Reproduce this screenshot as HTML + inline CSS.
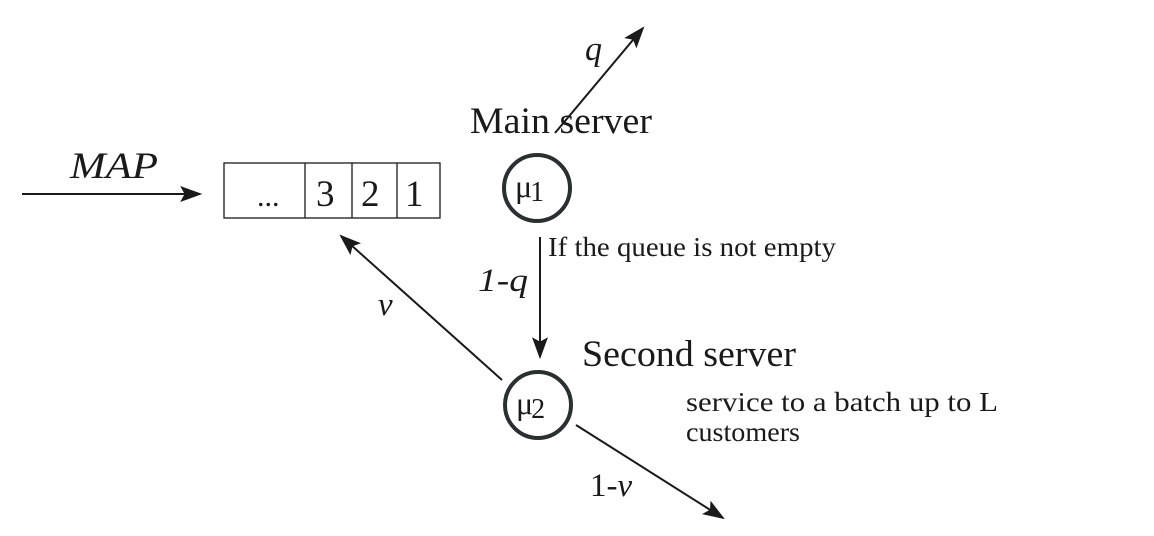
<!DOCTYPE html>
<html><head><meta charset="utf-8"><style>body{margin:0;background:#fff}svg{display:block}</style></head><body>
<svg width="1154" height="536" viewBox="0 0 1154 536" xmlns="http://www.w3.org/2000/svg" font-family="'Liberation Serif',serif" fill="#1a1a1a">
<defs><marker id="a" viewBox="0 0 10 10" refX="9" refY="5" markerWidth="22" markerHeight="16" markerUnits="userSpaceOnUse" orient="auto" preserveAspectRatio="none"><path d="M0,0 L10,5 L0,10 L2,5 z" fill="#1a1a1a"/></marker></defs>
<g stroke="#1a1a1a" stroke-width="2" fill="none">
<line x1="22" y1="194" x2="200" y2="194" marker-end="url(#a)"/>
<rect x="224" y="163" width="216" height="55" stroke-width="1.3"/>
<line x1="305" y1="163" x2="305" y2="218" stroke-width="1.3"/>
<line x1="352" y1="163" x2="352" y2="218" stroke-width="1.3"/>
<line x1="397" y1="163" x2="397" y2="218" stroke-width="1.3"/>
<line x1="555" y1="133" x2="643" y2="28" marker-end="url(#a)"/>
<line x1="540" y1="237" x2="540" y2="357" marker-end="url(#a)"/>
<line x1="502" y1="380" x2="341" y2="236" marker-end="url(#a)"/>
<line x1="576" y1="425" x2="723" y2="518" marker-end="url(#a)"/>
<circle cx="537" cy="188" r="33" stroke="#2a2f2f" stroke-width="4"/>
<circle cx="538" cy="405" r="33" stroke="#2a2f2f" stroke-width="4"/>
</g>
<text x="70" y="178" font-size="37" font-style="italic" textLength="88" lengthAdjust="spacingAndGlyphs">MAP</text>
<text x="257" y="206" font-size="30">...</text>
<text x="316" y="206" font-size="37">3</text>
<text x="361" y="206" font-size="37">2</text>
<text x="405" y="206" font-size="37">1</text>
<text x="470" y="133" font-size="37" textLength="182" lengthAdjust="spacingAndGlyphs">Main server</text>
<text x="585" y="60" font-size="34" font-style="italic">q</text>
<text x="515" y="197" font-size="32">μ<tspan font-size="28" dy="4" dx="-2">1</tspan></text>
<text x="516" y="414" font-size="32">μ<tspan font-size="28" dy="4" dx="-2">2</tspan></text>
<text x="548" y="256" font-size="27" textLength="288" lengthAdjust="spacingAndGlyphs">If the queue is not empty</text>
<text x="478" y="291" font-size="33" font-style="italic" textLength="50" lengthAdjust="spacingAndGlyphs">1-q</text>
<text x="378" y="315" font-size="33" font-style="italic">v</text>
<text x="582" y="366" font-size="37" textLength="214" lengthAdjust="spacingAndGlyphs">Second server</text>
<text x="686" y="411" font-size="27" textLength="312" lengthAdjust="spacingAndGlyphs">service to a batch up to L</text>
<text x="686" y="441" font-size="27" textLength="114" lengthAdjust="spacingAndGlyphs">customers</text>
<text x="590" y="496" font-size="33">1-<tspan font-style="italic">v</tspan></text>
</svg>
</body></html>
